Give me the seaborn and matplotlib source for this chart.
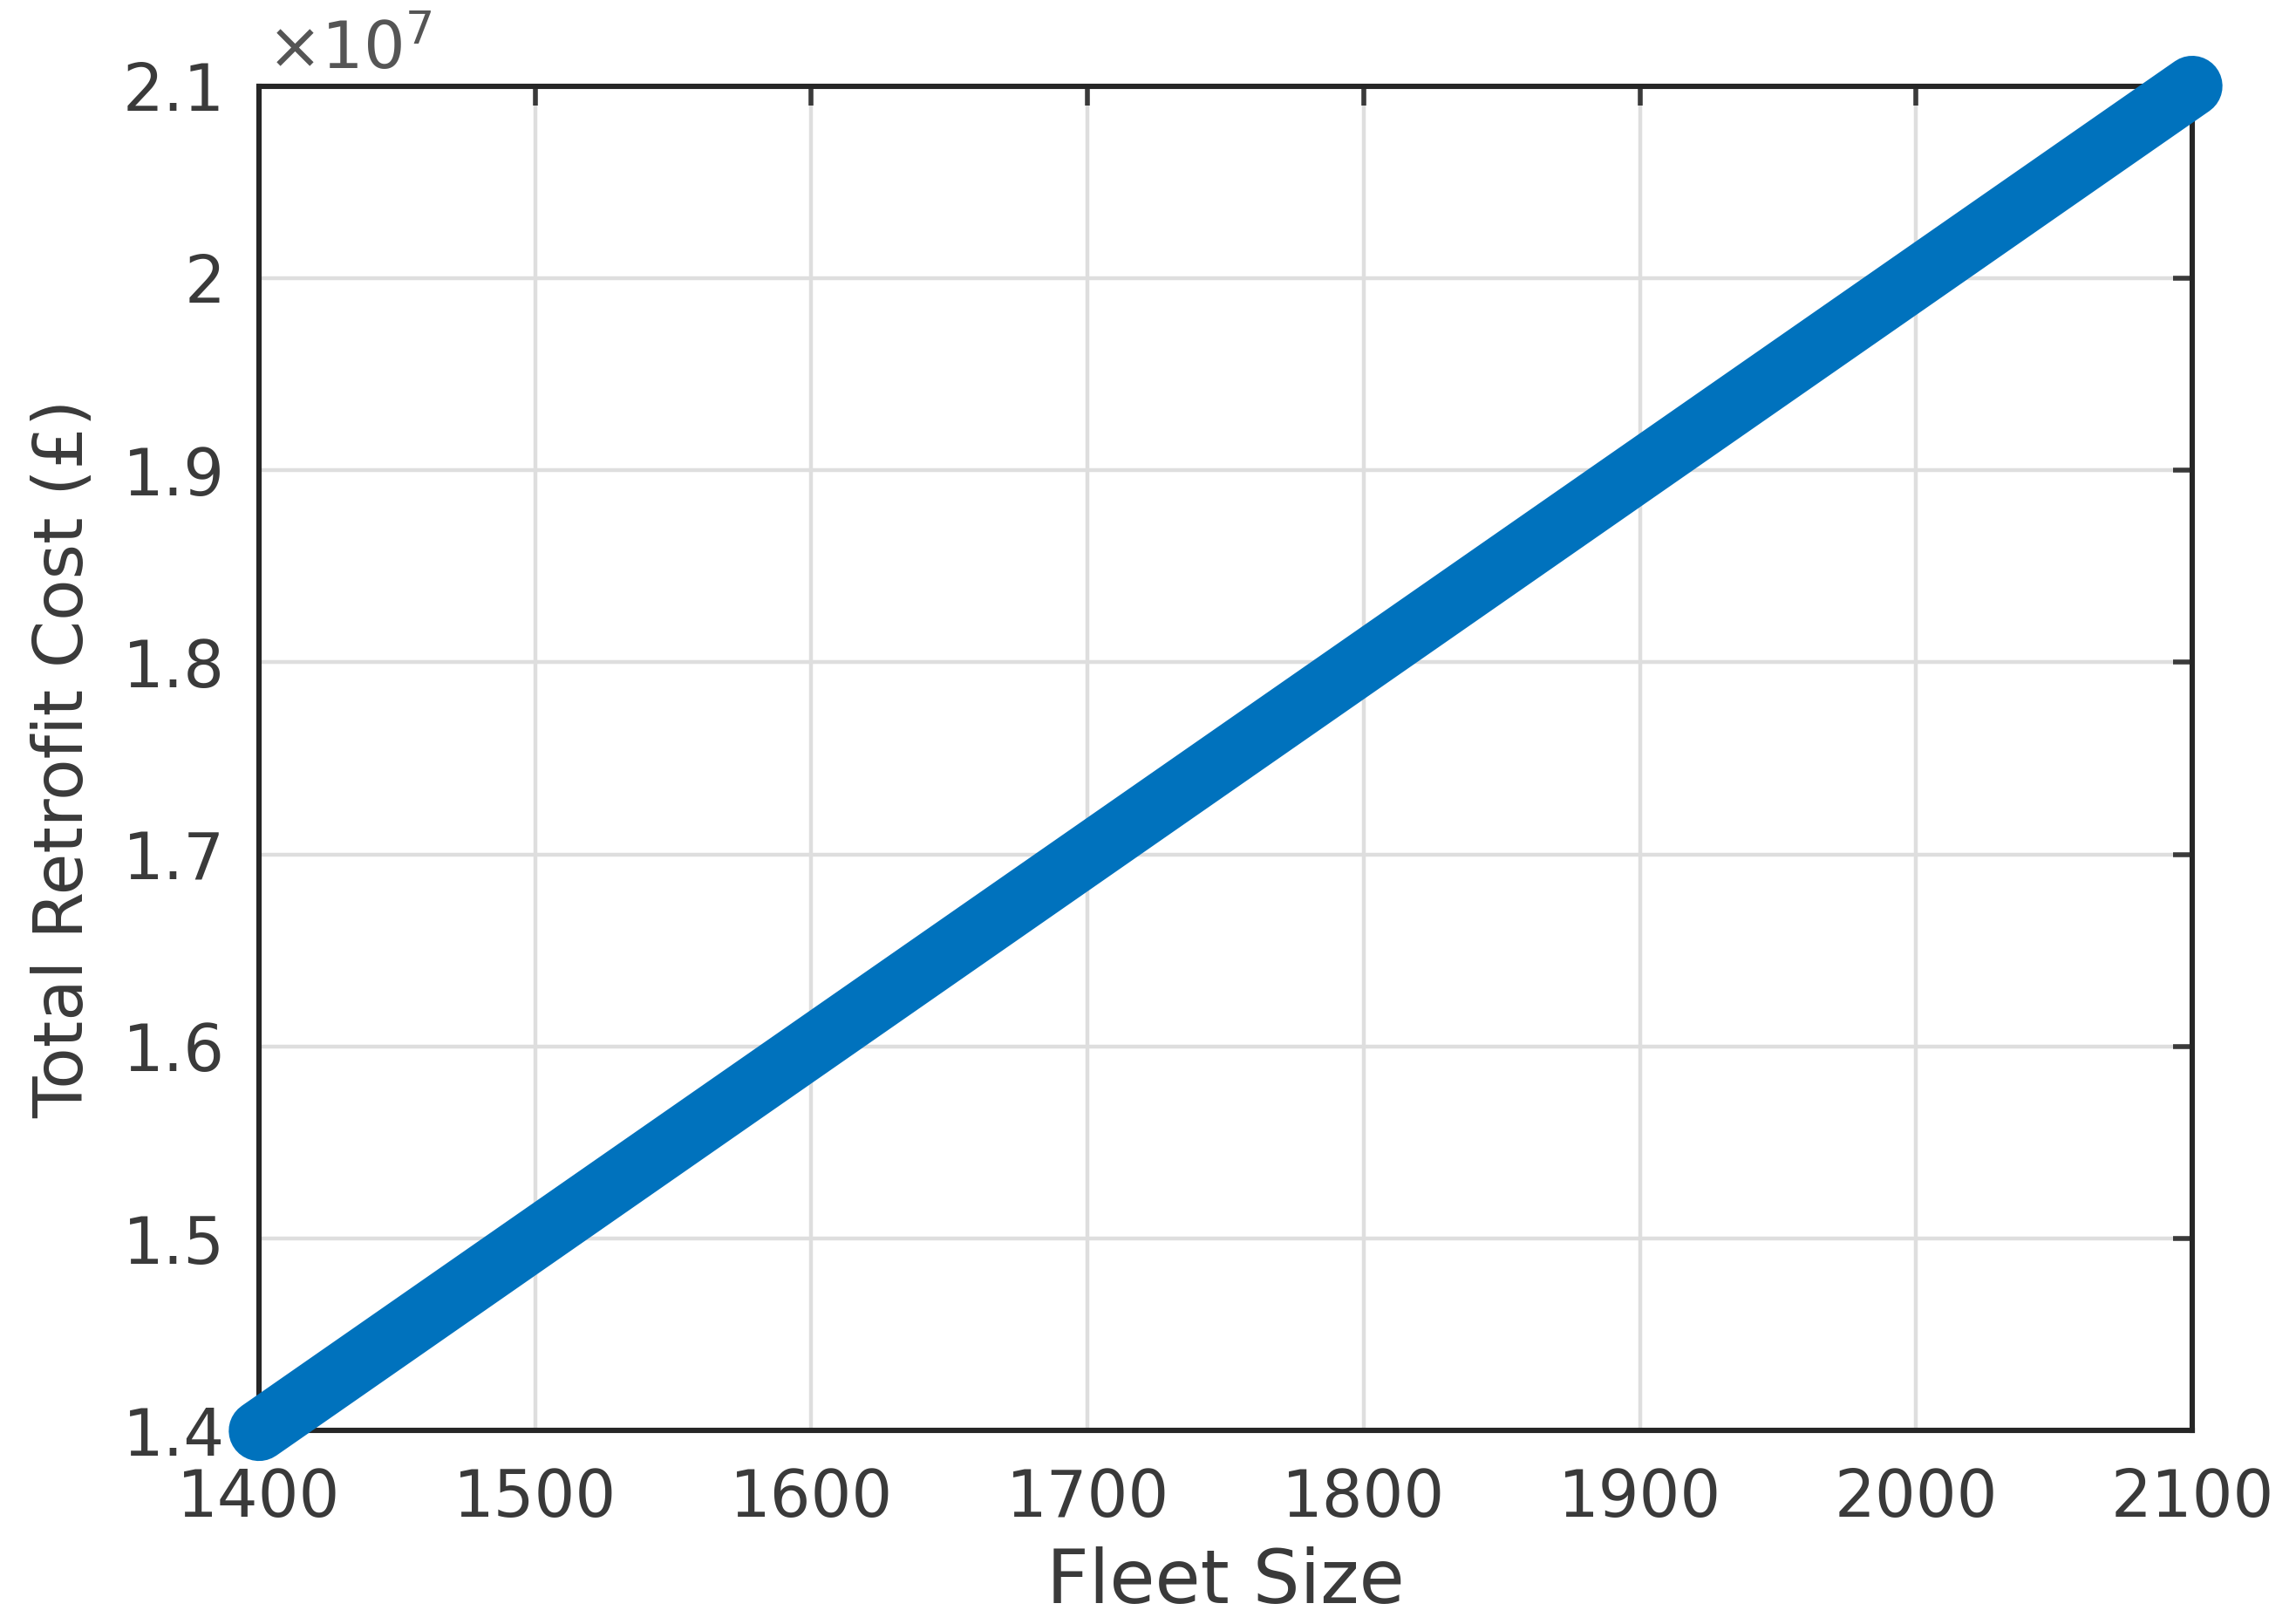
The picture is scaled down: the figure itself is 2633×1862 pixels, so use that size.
import pandas as pd
import matplotlib
matplotlib.use("Agg")
import matplotlib.pyplot as plt
import seaborn as sns

# Dữ liệu: chi phí tăng tuyến tính theo quy mô đội xe
fleet_size = [1400, 1450, 1500, 1550, 1600, 1650, 1700, 1750,
              1800, 1850, 1900, 1950, 2000, 2050, 2100]
total_cost = [1.40e7, 1.45e7, 1.50e7, 1.55e7, 1.60e7, 1.65e7, 1.70e7, 1.75e7,
              1.80e7, 1.85e7, 1.90e7, 1.95e7, 2.00e7, 2.05e7, 2.10e7]
x_ticks = [1400, 1500, 1600, 1700, 1800, 1900, 2000, 2100]
y_ticks = [1.4e7, 1.5e7, 1.6e7, 1.7e7, 1.8e7, 1.9e7, 2.0e7, 2.1e7]
y_tick_labels = ["1.4", "1.5", "1.6", "1.7", "1.8", "1.9", "2", "2.1"]

df = pd.DataFrame({"Fleet Size": fleet_size, "Total Retrofit Cost": total_cost})

sns.set_style("white")
plt.rcParams['font.family'] = ['DejaVu Sans']
text_color = "#262626"

fig = plt.figure(figsize=(2633 / 200, 1862 / 200), dpi=200)
ax = fig.add_axes([0.1128, 0.119, 0.842, 0.828])

sns.lineplot(data=df, x="Fleet Size", y="Total Retrofit Cost", ax=ax,
             color="#0072BD", lw=25, solid_capstyle="round",
             clip_on=False, zorder=3)

ax.set_xlim(1400, 2100)
ax.set_ylim(1.4e7, 2.1e7)
ax.set_xticks(x_ticks)
ax.set_yticks(y_ticks)
ax.set_yticklabels(y_tick_labels)

# hệ số mũ kiểu MATLAB ở góc trên trái
ax.text(0.004, 1.013, r"$\times10^{7}$", transform=ax.transAxes,
        fontsize=27, color="#555555", ha="left", va="baseline")

ax.grid(True, color="#dedede", linewidth=1.6)
ax.set_axisbelow(True)
for side in ax.spines.values():
    side.set_color(text_color)
    side.set_linewidth(2.2)
ax.tick_params(axis="both", direction="in", length=8, width=2,
               labelsize=26.5, colors="#3a3a3a", top=True, right=True)
ax.tick_params(axis="x", pad=15)
ax.tick_params(axis="y", pad=14)

ax.set_xlabel("Fleet Size", fontsize=30.5, color="#3a3a3a")
ax.set_ylabel("Total Retrofit Cost (£)", fontsize=28, color="#3a3a3a")
ax.xaxis.label.set_va("baseline")
ax.xaxis.set_label_coords(0.5, -0.128)
ax.yaxis.set_label_coords(-0.084, 0.5)

fig.savefig("out.png", dpi=200)
